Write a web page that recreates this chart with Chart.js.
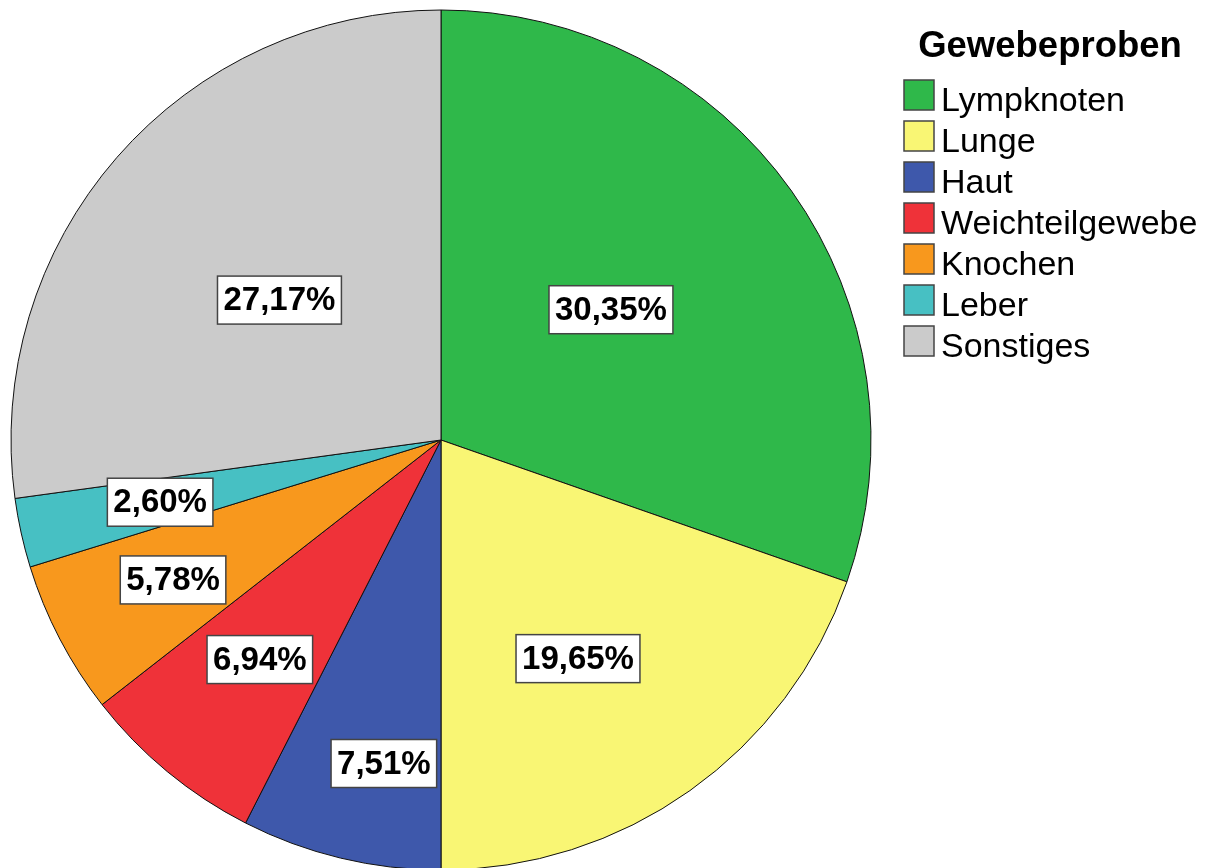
<!DOCTYPE html>
<html>
<head>
<meta charset="utf-8">
<script src="https://cdn.jsdelivr.net/npm/chart.js@4.4.0/dist/chart.umd.min.js"></script>
<style>
  html, body { margin: 0; padding: 0; background: #ffffff; }
  #wrap { width: 1207px; height: 868px; position: relative; }
</style>
</head>
<body>
<div id="wrap"><canvas id="pieChart" width="1207" height="868"></canvas></div>
<script>
const categories = ['Lympknoten', 'Lunge', 'Haut', 'Weichteilgewebe', 'Knochen', 'Leber', 'Sonstiges'];
const percentages = [30.35, 19.65, 7.51, 6.94, 5.78, 2.60, 27.17];
const legendTitle = 'Gewebeproben';

const sliceColors = ['#2fb84a', '#f9f674', '#3e58ab', '#ef3239', '#f8981d', '#47c0c3', '#cbcbcb'];
// where each percentage box sits: fraction of the radius, and a small turn off the slice middle (degrees)
const labelRadius = [0.498, 0.60, 0.764, 0.662, 0.703, 0.669, 0.497];
const labelTurn = [-2.1, 3.3, -3.5, 0, 0, 0, -0.2];

const fontName = '"Liberation Sans", Arial, sans-serif';

const sliceLabels = {
    id: 'sliceLabels',
    afterDatasetsDraw(chart) {
        const ctx = chart.ctx;
        const meta = chart.getDatasetMeta(0);
        ctx.save();
        ctx.font = 'bold 33px ' + fontName;
        ctx.textAlign = 'center';
        ctx.textBaseline = 'middle';
        meta.data.forEach((arc, i) => {
            const mid = (arc.startAngle + arc.endAngle) / 2 + labelTurn[i] * Math.PI / 180;
            const r = arc.outerRadius * labelRadius[i];
            const x = arc.x + Math.cos(mid) * r;
            const y = arc.y + Math.sin(mid) * r;
            const text = percentages[i].toFixed(2).replace('.', ',') + '%';
            const w = ctx.measureText(text).width + 12;
            const h = 48;
            ctx.fillStyle = '#ffffff';
            ctx.fillRect(x - w / 2, y - h / 2, w, h);
            ctx.strokeStyle = '#444444';
            ctx.lineWidth = 1.5;
            ctx.strokeRect(x - w / 2, y - h / 2, w, h);
            ctx.fillStyle = '#000000';
            ctx.fillText(text, x, y + 1);
        });
        ctx.restore();
    }
};

const sideLegend = {
    id: 'sideLegend',
    afterDraw(chart) {
        const ctx = chart.ctx;
        const colors = chart.data.datasets[0].backgroundColor;
        ctx.save();
        ctx.fillStyle = '#000000';
        ctx.textAlign = 'center';
        ctx.textBaseline = 'alphabetic';
        ctx.font = 'bold 36.5px ' + fontName;
        ctx.fillText(legendTitle, 1050, 57);
        ctx.textAlign = 'left';
        ctx.font = '34px ' + fontName;
        chart.data.labels.forEach((label, i) => {
            const top = 80 + i * 41;
            ctx.fillStyle = colors[i];
            ctx.fillRect(904, top, 30, 30);
            ctx.strokeStyle = '#444444';
            ctx.lineWidth = 1.5;
            ctx.strokeRect(904, top, 30, 30);
            ctx.fillStyle = '#000000';
            ctx.fillText(label, 941, top + 31);
        });
        ctx.restore();
    }
};

new Chart(document.getElementById('pieChart').getContext('2d'), {
    type: 'pie',
    data: {
        labels: categories,
        datasets: [{
            data: percentages,
            backgroundColor: sliceColors,
            borderColor: '#111111',
            borderWidth: 1,
            clip: false
        }]
    },
    options: {
        responsive: false,
        animation: false,
        radius: 430,
        layout: {
            padding: { left: 11, right: 336, top: 12, bottom: 0 }
        },
        plugins: {
            legend: { display: false },
            tooltip: { enabled: false }
        }
    },
    plugins: [sliceLabels, sideLegend]
});
</script>
</body>
</html>
